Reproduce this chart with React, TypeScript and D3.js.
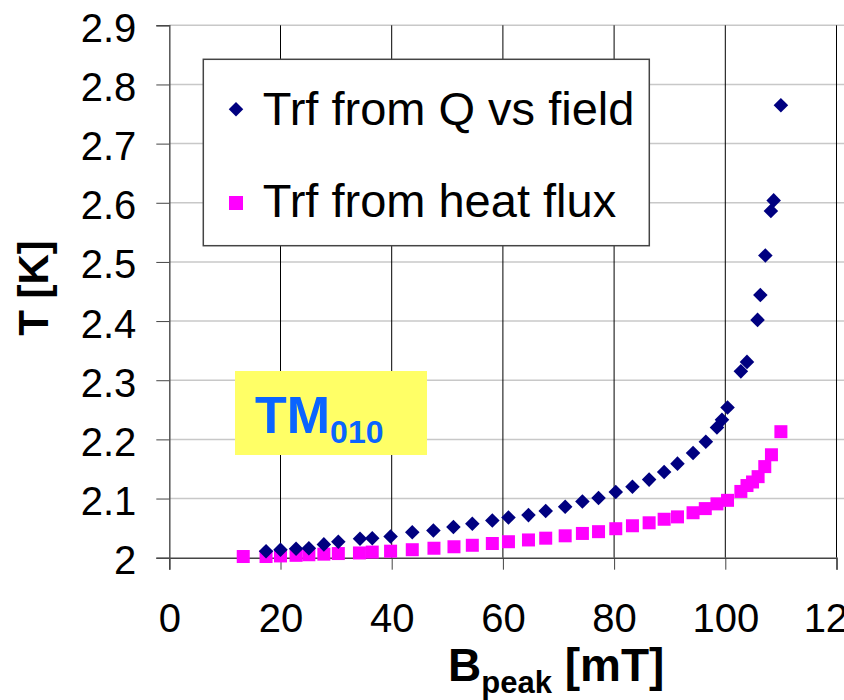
import React, { useEffect, useRef } from "react";
import * as d3 from "d3";

// Bpeak [mT] and T [K]
const qFieldB = [
  17.4, 20.0, 22.8, 25.1, 27.8, 30.4, 34.3, 36.5, 39.8, 43.7, 47.5, 51.1, 54.5, 58.1,
  61.0, 64.6, 67.7, 71.2, 74.3, 77.2, 80.3, 83.3, 86.3, 89.0, 91.4, 94.2, 96.5, 98.5,
  99.4, 100.4, 102.8, 103.9, 105.8, 106.3, 107.2, 108.2, 108.7, 110.0,
];
const qFieldT = [
  2.011, 2.0135, 2.015, 2.016, 2.0225, 2.027, 2.032, 2.033, 2.036, 2.043, 2.046, 2.052, 2.0575, 2.063,
  2.068, 2.072, 2.079, 2.086, 2.095, 2.101, 2.111, 2.12, 2.132, 2.145, 2.159, 2.177, 2.196, 2.22,
  2.233, 2.254, 2.315, 2.331, 2.402, 2.444, 2.511, 2.586, 2.604, 2.765,
];
const heatB = [
  13.3, 17.4, 20.0, 22.8, 25.1, 27.8, 30.4, 34.2, 36.5, 39.8, 43.7, 47.6, 51.2, 54.5, 58.1,
  61.0, 64.6, 67.7, 71.2, 74.3, 77.2, 80.3, 83.3, 86.3, 89.0, 91.4, 94.2, 96.4, 98.5, 100.4,
  102.8, 103.9, 104.9, 105.9, 107.1, 108.3, 110.0,
];
const heatT = [
  2.002, 2.002, 2.003, 2.004, 2.005, 2.006, 2.007, 2.008, 2.0095, 2.011, 2.0135, 2.016, 2.0185, 2.021, 2.024,
  2.027, 2.03, 2.033, 2.037, 2.041, 2.044, 2.049, 2.054, 2.059, 2.065, 2.069, 2.076, 2.083, 2.091, 2.097,
  2.112, 2.122, 2.128, 2.137, 2.154, 2.174, 2.213,
];
const xTicks = [0, 20, 40, 60, 80, 100, 120];
const yTicks = [2, 2.1, 2.2, 2.3, 2.4, 2.5, 2.6, 2.7, 2.8, 2.9];
const seriesNames = ["Trf from Q vs field", "Trf from heat flux"];

const FONT = "'Liberation Sans', Arial, sans-serif";
const NAVY = "#000080";
const PINK = "#ff00ff";

const App = () => {
  const svgRef = useRef<SVGSVGElement | null>(null);

  useEffect(() => {
    if (!svgRef.current) return;
    const svg = d3.select(svgRef.current);
    svg.selectAll("*").remove();

    const x = d3.scaleLinear().domain([0, 120]).range([169.3, 836.5]);
    const y = d3.scaleLinear().domain([2, 2.9]).range([557.7, 25.3]);

    // horizontal grid (light)
    svg
      .append("g")
      .selectAll("line")
      .data(yTicks.slice(1))
      .enter()
      .append("line")
      .attr("x1", x(0))
      .attr("x2", 844)
      .attr("y1", (d) => y(d))
      .attr("y2", (d) => y(d))
      .attr("stroke", "#c8c8c8")
      .attr("stroke-width", 1.5);

    // vertical grid (black)
    svg
      .append("g")
      .selectAll("line")
      .data(xTicks.slice(1))
      .enter()
      .append("line")
      .attr("x1", (d) => x(d))
      .attr("x2", (d) => x(d))
      .attr("y1", y(2.9))
      .attr("y2", y(2))
      .attr("stroke", "#000")
      .attr("stroke-width", 1);

    // axes
    const xAxis = d3
      .axisBottom(x)
      .tickValues(xTicks)
      .tickSize(12)
      .tickPadding(34)
      .tickFormat((d) => String(d));
    const gx = svg.append("g").attr("transform", `translate(0,${y(2)})`).call(xAxis);
    gx.select(".domain").attr("stroke", "#444").attr("stroke-width", 1.5);
    gx.selectAll(".tick line").attr("stroke", "#444");
    gx.selectAll("text")
      .attr("font-family", FONT)
      .attr("font-size", 40)
      .attr("fill", "#000");

    const yAxis = d3
      .axisLeft(y)
      .tickValues(yTicks)
      .tickSize(13)
      .tickPadding(20)
      .tickFormat((d) => (d === 2 ? "2" : d3.format(".1f")(d as number)));
    const gy = svg.append("g").attr("transform", `translate(${x(0)},0)`).call(yAxis);
    gy.select(".domain").attr("stroke", "#555").attr("stroke-width", 1.5);
    gy.selectAll(".tick line").attr("stroke", "#444");
    gy.selectAll("text")
      .attr("font-family", FONT)
      .attr("font-size", 40)
      .attr("dy", "0.4em")
      .attr("fill", "#000");

    // points
    const diamond = d3.symbol().type(d3.symbolDiamond2).size(135);
    svg
      .append("g")
      .selectAll("rect")
      .data(heatB.map((b, i) => [b, heatT[i]]))
      .enter()
      .append("rect")
      .attr("x", (d) => x(d[0]) - 6.5)
      .attr("y", (d) => y(d[1]) - 6.5)
      .attr("width", 13)
      .attr("height", 13)
      .attr("fill", PINK);

    svg
      .append("g")
      .selectAll("path")
      .data(qFieldB.map((b, i) => [b, qFieldT[i]]))
      .enter()
      .append("path")
      .attr("d", diamond)
      .attr("transform", (d) => `translate(${x(d[0])},${y(d[1])})`)
      .attr("fill", NAVY);

    // legend
    const lg = svg.append("g");
    lg.append("rect")
      .attr("x", 203.3)
      .attr("y", 59.3)
      .attr("width", 446)
      .attr("height", 186.4)
      .attr("fill", "#fff")
      .attr("stroke", "#444")
      .attr("stroke-width", 1.5);
    lg.append("path").attr("d", diamond).attr("transform", "translate(236,109.3)").attr("fill", NAVY);
    lg.append("rect").attr("x", 229).attr("y", 196).attr("width", 14).attr("height", 14).attr("fill", PINK);
    lg.selectAll("text")
      .data(seriesNames)
      .enter()
      .append("text")
      .attr("x", 262.7)
      .attr("y", (d, i) => (i === 0 ? 125 : 216.7))
      .attr("font-family", FONT)
      .attr("font-size", 47)
      .text((d) => d);

    // TM010 label
    svg.append("rect")
      .attr("x", 235)
      .attr("y", 371)
      .attr("width", 192)
      .attr("height", 84)
      .attr("fill", "#ffff66");
    const tm = svg
      .append("text")
      .attr("x", 255)
      .attr("y", 432.7)
      .attr("font-family", FONT)
      .attr("font-weight", "bold")
      .attr("font-size", 52)
      .attr("fill", "#0a64ff");
    tm.append("tspan").text("TM");
    tm.append("tspan").attr("font-size", 32).attr("dy", 10.6).text("010");

    // axis titles
    svg.append("text")
      .attr("transform", "translate(48,288) rotate(-90)")
      .attr("text-anchor", "middle")
      .attr("font-family", FONT)
      .attr("font-weight", "bold")
      .attr("font-size", 42)
      .text("T [K]");

    const xt = svg
      .append("text")
      .attr("x", 448)
      .attr("y", 681)
      .attr("font-family", FONT)
      .attr("font-weight", "bold")
      .attr("font-size", 46);
    xt.append("tspan").text("B");
    xt.append("tspan").attr("font-size", 31).attr("dy", 12).text("peak");
    xt.append("tspan").attr("dy", -12).text(" [mT]");
  }, []);

  return (
    <div style={{ position: "absolute", left: 0, top: 0 }}>
      <svg ref={svgRef} width={844} height={700} style={{ display: "block", background: "#fff" }} />
    </div>
  );
};

export default App;
